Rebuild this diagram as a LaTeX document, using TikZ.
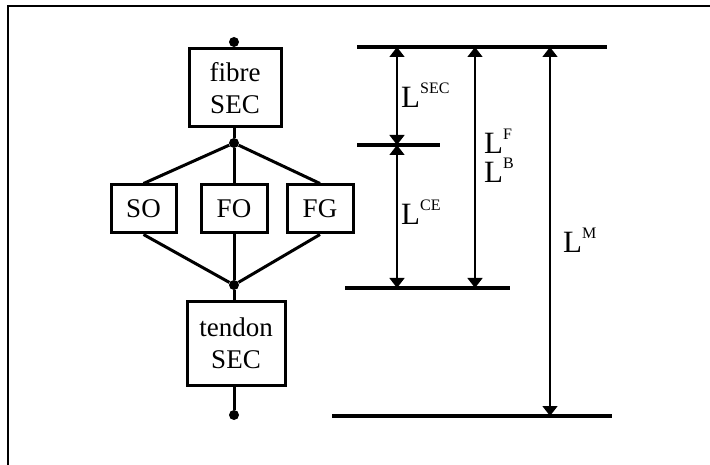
\documentclass[tikz,border=0pt]{standalone}
\usepackage{fontspec}
\setmainfont{Liberation Serif}
\usetikzlibrary{arrows.meta}
\newcommand\Lsup[1]{{\fontsize{31}{32}\selectfont L}\raisebox{14pt}{\fontsize{16}{17}\selectfont #1}}
\begin{document}
\begin{tikzpicture}[x=1pt,y=-1pt,
  box/.style={draw,line width=3pt,inner sep=0pt,align=center,font=\fontsize{27}{32}\selectfont},
  conn/.style={line width=3pt},
  dot/.style={circle,fill,inner sep=0pt,minimum width=10pt,minimum height=10pt},
  bar/.style={line width=3.4pt},
  dim/.style={line width=1.4pt,{Triangle[width=15pt,length=10pt]}-{Triangle[width=15pt,length=10pt]}},
  lab/.style={inner sep=0pt,anchor=west,align=left}]
\useasboundingbox (0,0) rectangle (710,465);
% frame
\draw[line width=2.2pt] (8,465) -- (8,6) -- (710,6);
% left tree
\node[dot] (d1) at (234,42) {};
\node[box,minimum width=92pt,minimum height=78pt] (fib) at (235,88) {fibre\\SEC};
\node[dot] (d2) at (234,143) {};
\node[box,minimum width=65pt,minimum height=48pt] (so) at (143.5,209) {SO};
\node[box,minimum width=66pt,minimum height=48pt] (fo) at (234,209) {FO};
\node[box,minimum width=66pt,minimum height=48pt] (fg) at (320,209) {FG};
\node[dot] (d3) at (234,285) {};
\node[box,minimum width=98pt,minimum height=83pt] (ten) at (236,343.5) {tendon\\SEC};
\node[dot] (d4) at (234,415) {};
\draw[conn] (d1) -- (d1|-fib.north);
\draw[conn] (d2|-fib.south) -- (d2);
\draw[conn] (d2) -- (so.north);
\draw[conn] (d2) -- (fo.north);
\draw[conn] (d2) -- (fg.north);
\draw[conn] (so.south) -- (d3);
\draw[conn] (fo.south) -- (d3);
\draw[conn] (fg.south) -- (d3);
\draw[conn] (d3) -- (d3|-ten.north);
\draw[conn] (d4|-ten.south) -- (d4);
% right dimension lines
\coordinate (t1) at (357,47);  \coordinate (t2) at (607,47);
\coordinate (m1) at (357,145); \coordinate (m2) at (440,145);
\coordinate (c1) at (345,288); \coordinate (c2) at (510,288);
\coordinate (b1) at (332,416); \coordinate (b2) at (612,416);
\draw[bar] (t1) -- (t2);
\draw[bar] (m1) -- (m2);
\draw[bar] (c1) -- (c2);
\draw[bar] (b1) -- (b2);
\coordinate (a1t) at (397,47);  \coordinate (a1b) at (397,145);
\coordinate (a2b) at (397,288);
\coordinate (a3t) at (475,47);  \coordinate (a3b) at (475,288);
\coordinate (a4t) at (550,47);  \coordinate (a4b) at (550,416);
\draw[dim] (a1t) -- (a1b);
\draw[dim] (a1b) -- (a2b);
\draw[dim] (a3t) -- (a3b);
\draw[dim] (a4t) -- (a4b);
\node[lab] (lsec) at (401,95) {\Lsup{SEC}};
\node[lab] (lce) at (401,212) {\Lsup{CE}};
\node[lab] (lf) at (484,141) {\Lsup{F}};
\node[lab] (lb) at (484,170) {\Lsup{B}};
\node[lab] (lm) at (563,240) {\Lsup{M}};
\end{tikzpicture}
\end{document}
